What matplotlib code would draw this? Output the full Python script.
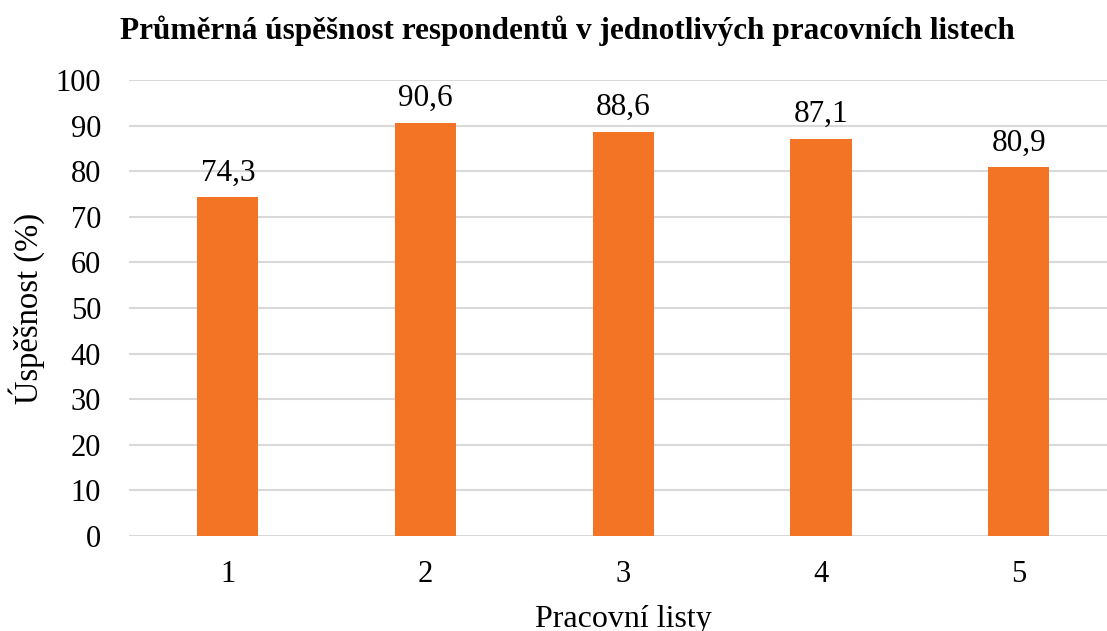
import matplotlib.pyplot as plt

listy = ['1', '2', '3', '4', '5']
uspesnost = [74.3, 90.6, 88.6, 87.1, 80.9]
popisky = ['74,3', '90,6', '88,6', '87,1', '80,9']


def main():
    plt.rcParams['font.family'] = ['Liberation Serif', 'DejaVu Serif']

    fig = plt.figure(figsize=(11.07, 6.31), dpi=100)
    ax = fig.add_axes([0.1165, 0.1506, 0.893, 0.7226])

    pos = range(1, len(listy) + 1)
    bars = ax.bar(pos, uspesnost, width=0.31, color='#F27424', zorder=3)

    for b, txt in zip(bars, popisky):
        ax.annotate(txt, (b.get_x() + b.get_width() / 2, b.get_height()),
                    xytext=(0, 7), textcoords='offset points',
                    ha='center', va='bottom', fontsize=22.5)

    ax.set_xlim(0.5, 5.5)
    ax.set_ylim(0, 100)
    ax.set_yticks(range(0, 101, 10))
    ax.set_xticks(list(pos))
    ax.set_xticklabels(listy)
    ax.tick_params(axis='both', length=0, labelsize=22)
    ax.tick_params(axis='y', pad=20)
    ax.tick_params(axis='x', pad=17)

    ax.grid(axis='y', color='#d9d9d9', linewidth=1.5, zorder=0)
    for s in ax.spines.values():
        s.set_visible(False)

    ax.set_ylabel('Úspěšnost (%)', fontsize=23.5, labelpad=8)
    ax.set_xlabel('Pracovní listy', fontsize=23, labelpad=12)
    fig.text(0.5126, 0.952, 'Průměrná úspěšnost respondentů v jednotlivých pracovních listech',
             ha='center', va='center', fontsize=22.5, fontweight='bold')

    plt.savefig('out.png', dpi=100)


if __name__ == '__main__':
    main()
